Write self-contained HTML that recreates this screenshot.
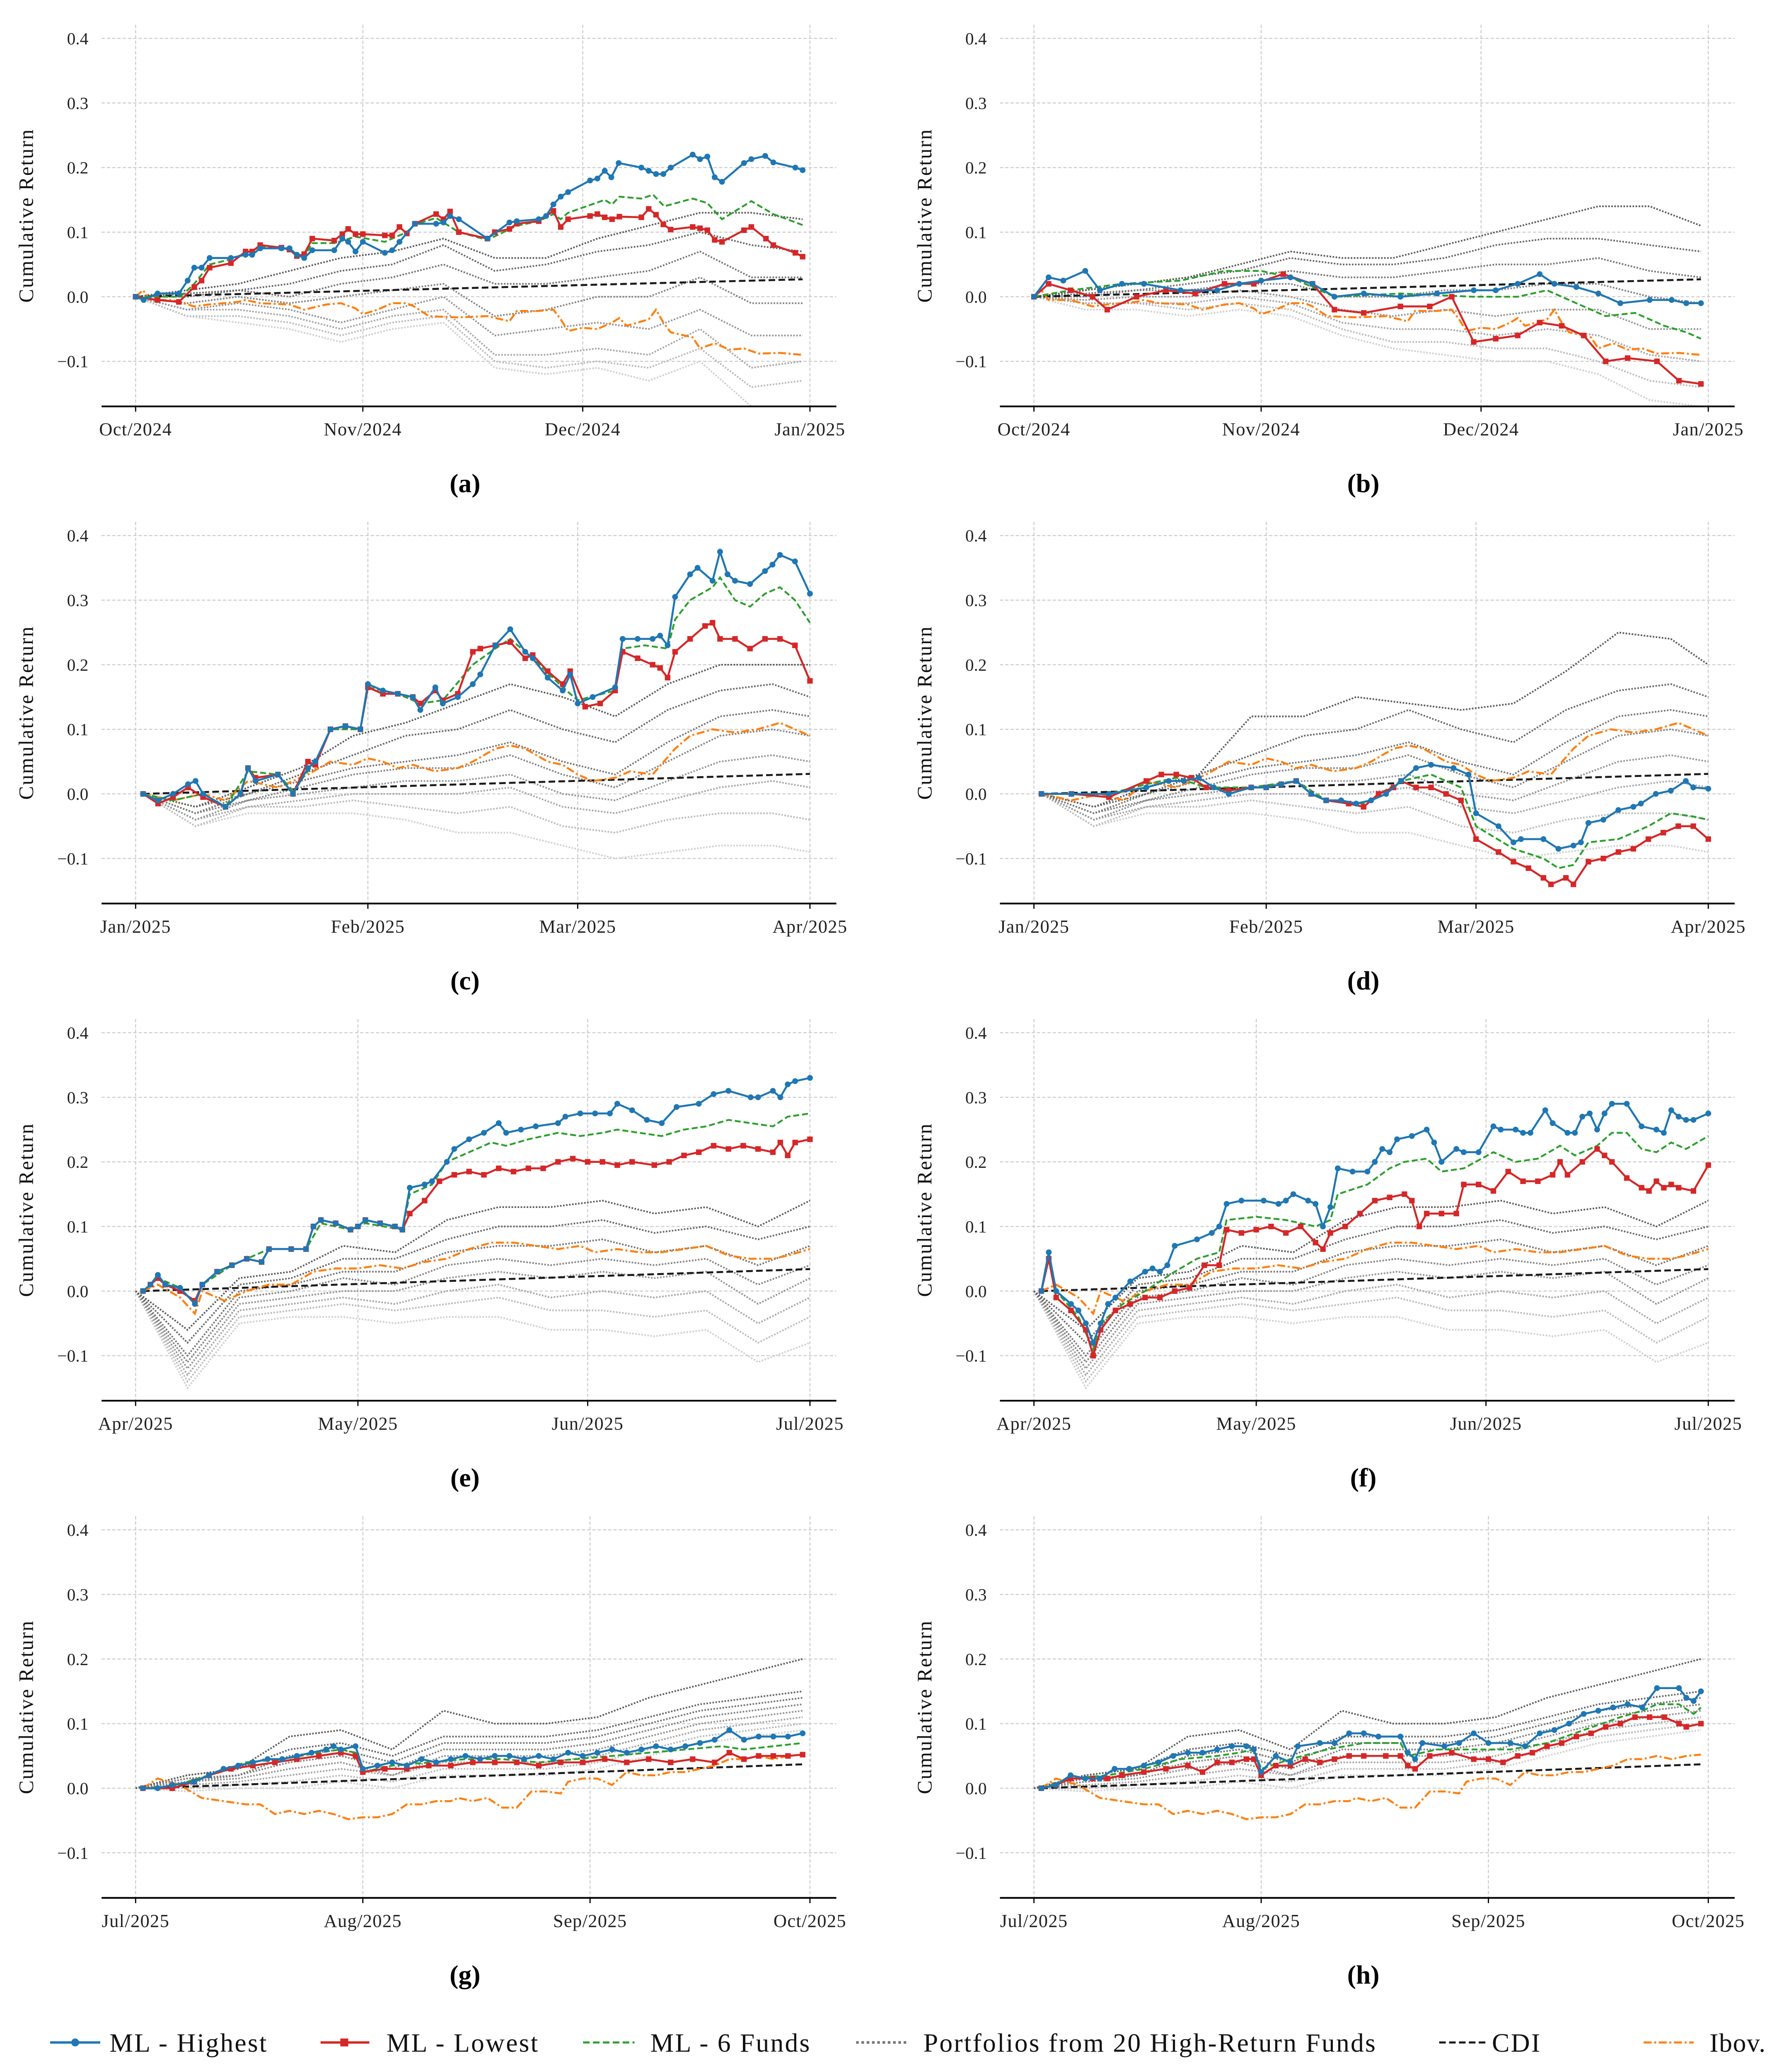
<!DOCTYPE html>
<html><head><meta charset="utf-8"><style>
html,body{margin:0;padding:0;background:#fff;overflow:hidden;width:4277px;height:5051px;}
svg{display:block;}
text{font-family:"Liberation Serif","DejaVu Serif",serif;}
</style></head>
<body><svg id="fig" xmlns="http://www.w3.org/2000/svg" width="4277" height="5051" viewBox="0 0 1343.3 1586.4">
<rect x="0" y="0" width="1343.3" height="1586.4" fill="#fff"/>
<g font-family="Liberation Serif, serif" font-size="20" letter-spacing="1" fill="#111">
  <g>
   <line x1="38" x2="76" y1="1548" y2="1548" stroke="#1f77b4" stroke-width="1.8"/><circle cx="57" cy="1548" r="3" fill="#1f77b4"/>
   <text x="83" y="1555">ML - Highest</text></g>
  <g>
   <line x1="243" x2="280" y1="1548" y2="1548" stroke="#d62728" stroke-width="1.8"/><rect x="258" y="1545" width="6" height="6" fill="#d62728"/>
   <text x="293" y="1555">ML - Lowest</text></g>
  <g>
   <line x1="442" x2="481" y1="1548" y2="1548" stroke="#2ca02c" stroke-width="1.6" stroke-dasharray="5,2.5"/>
   <text x="493" y="1555">ML - 6 Funds</text></g>
  <g>
   <line x1="649" x2="689" y1="1548" y2="1548" stroke="#777" stroke-width="2" stroke-dasharray="2,2"/>
   <text x="700" y="1555">Portfolios from 20 High-Return Funds</text></g>
  <g>
   <line x1="1091" x2="1126" y1="1548" y2="1548" stroke="#1a1a1a" stroke-width="1.6" stroke-dasharray="5,2.5"/>
   <text x="1131" y="1555">CDI</text></g>
  <g>
   <line x1="1246" x2="1284" y1="1548" y2="1548" stroke="#ff7f0e" stroke-width="1.6" stroke-dasharray="6,2,1.5,2"/>
   <text x="1296" y="1555" letter-spacing="0.5">Ibov.</text></g>
</g>
</svg><script>
// ---------- DATA (day index within quarter, cumulative return) ----------
const highA=[[0,0],[1.1,-0.005],[3,0.005],[5.9,0.005],[7.1,0.025],[8,0.045],[9,0.045],[10.1,0.06],[13,0.06],[15,0.065],[15.9,0.065],[17,0.075],[19.9,0.075],[21,0.075],[22,0.065],[23,0.06],[24.1,0.072],[27.1,0.072],[28.2,0.09],[29,0.085],[30,0.07],[31,0.085],[34,0.068],[35,0.072],[36,0.085],[38.1,0.113],[41,0.113],[42,0.115],[42.9,0.125],[44.1,0.12],[48,0.09],[51,0.115],[52,0.117],[55,0.12],[56,0.125],[57,0.143],[58,0.155],[59,0.162],[62,0.18],[63,0.183],[64,0.195],[64.9,0.185],[65.9,0.207],[69,0.2],[70,0.195],[71,0.19],[72,0.19],[73,0.2],[76,0.22],[77,0.213],[78,0.217],[79,0.185],[80,0.178],[83,0.207],[84,0.213],[85.9,0.218],[87,0.208],[90,0.2],[91,0.196]];
const lowA=[[0,0],[3,-0.005],[5.9,-0.008],[8,0.015],[9,0.025],[10.1,0.045],[13,0.052],[15,0.07],[15.9,0.07],[17,0.08],[19.9,0.076],[21,0.073],[22,0.063],[23,0.066],[24.1,0.09],[27.1,0.087],[28.2,0.097],[29,0.105],[30,0.097],[31,0.097],[34,0.095],[35,0.095],[36,0.108],[37,0.098],[38.1,0.113],[41,0.128],[42,0.12],[42.9,0.132],[44.1,0.1],[48,0.09],[49,0.1],[51,0.105],[52,0.113],[55,0.117],[57,0.133],[58,0.108],[59,0.12],[62,0.125],[63,0.128],[64,0.123],[65,0.12],[66,0.124],[69,0.123],[70,0.136],[71,0.127],[72,0.112],[73,0.104],[76,0.108],[77,0.106],[78,0.103],[79,0.088],[80,0.085],[83,0.103],[84,0.108],[86,0.09],[87,0.08],[90,0.068],[91,0.062]];
const sixA=[[0,0],[6.1,0],[8,0.02],[10.1,0.05],[13,0.058],[17,0.077],[19.9,0.077],[23,0.062],[24.1,0.083],[27.1,0.083],[30,0.093],[34,0.085],[37,0.1],[38.1,0.112],[41,0.122],[44.1,0.1],[48,0.088],[52,0.11],[55,0.117],[57,0.128],[58,0.12],[59,0.13],[64,0.15],[65,0.143],[66,0.155],[69,0.152],[70.6,0.158],[72.1,0.14],[76,0.152],[78,0.145],[80,0.12],[84,0.148],[87,0.128],[91,0.111]];
const ibovQ4=[[0,0],[1,0.01],[2,-0.005],[5,-0.005],[8,-0.015],[10,-0.012],[14,-0.008],[15,-0.005],[17,-0.01],[21,-0.012],[23,-0.02],[26,-0.012],[28,-0.01],[30,-0.018],[31,-0.027],[33,-0.02],[35,-0.01],[37,-0.01],[38,-0.015],[40,-0.03],[44,-0.032],[48,-0.03],[51,-0.038],[52,-0.022],[55,-0.022],[57,-0.02],[58,-0.035],[59,-0.053],[61,-0.048],[63,-0.05],[65,-0.04],[66,-0.033],[67,-0.045],[70,-0.035],[71,-0.02],[72,-0.04],[73,-0.055],[76,-0.063],[77,-0.08],[79,-0.072],[81,-0.082],[83,-0.08],[85,-0.088],[88,-0.087],[91,-0.09]];
const cdiQ4=[[0,0],[91,0.027]];
const highB=[[0,0],[2,0.03],[4,0.025],[7,0.04],[9,0.01],[12,0.02],[15,0.02],[20,0.01],[25,0.01],[28,0.02],[31,0.025],[35,0.03],[38,0.02],[41,0.0],[45,0.005],[50,0.0],[55,0.005],[60,0.01],[63,0.01],[66,0.02],[69,0.035],[71,0.02],[74,0.015],[77,0.005],[80,-0.01],[84,-0.005],[87,-0.005],[89,-0.01],[91,-0.01]];
const lowB=[[0,0],[2,0.02],[5,0.01],[8,0.0],[10,-0.02],[14,0.0],[18,0.01],[22,0.005],[26,0.02],[30,0.02],[34,0.035],[38,0.02],[41,-0.02],[45,-0.025],[50,-0.015],[54,-0.015],[57,0.0],[60,-0.07],[63,-0.065],[66,-0.06],[69,-0.04],[72,-0.045],[75,-0.06],[78,-0.1],[81,-0.095],[85,-0.1],[88,-0.13],[91,-0.135]];
const sixB=[[0,0],[5,0.01],[12,0.02],[20,0.025],[26,0.04],[31,0.04],[35,0.03],[41,0.0],[50,0.005],[60,0.0],[66,0.0],[70,0.01],[74,-0.01],[78,-0.03],[82,-0.025],[86,-0.045],[89,-0.055],[91,-0.065]];
const highC=[[1,0],[3,-0.01],[5,0],[7,0.015],[8,0.02],[9,0],[12,-0.02],[14,0],[15,0.04],[16,0.02],[19,0.03],[21,0],[23,0.04],[24,0.05],[26,0.1],[28,0.105],[30,0.1],[31,0.17],[33,0.16],[35,0.155],[37,0.15],[38,0.13],[40,0.165],[41,0.14],[43,0.15],[45,0.17],[46,0.185],[48,0.23],[50,0.255],[52,0.22],[53,0.21],[55,0.18],[57,0.16],[58,0.185],[59,0.14],[61,0.15],[64,0.165],[65,0.24],[67,0.24],[69,0.24],[70,0.245],[71,0.23],[72,0.305],[74,0.34],[75,0.35],[77,0.33],[78,0.375],[79,0.34],[80,0.33],[82,0.325],[84,0.345],[85,0.355],[86,0.37],[88,0.36],[90,0.31]];
const lowC=[[1,0],[3,-0.015],[5,-0.005],[7,0.01],[9,-0.005],[12,-0.02],[14,0],[15,0.04],[16,0.025],[19,0.03],[21,0.0],[23,0.05],[24,0.045],[26,0.1],[28,0.105],[30,0.1],[31,0.165],[33,0.155],[35,0.155],[37,0.15],[38,0.14],[40,0.16],[41,0.145],[43,0.155],[45,0.22],[46,0.225],[48,0.23],[50,0.235],[52,0.21],[53,0.215],[55,0.19],[57,0.17],[58,0.19],[60,0.135],[62,0.14],[64,0.16],[65,0.22],[67,0.21],[69,0.2],[70,0.195],[71,0.18],[72,0.22],[74,0.24],[76,0.26],[77,0.265],[78,0.24],[80,0.24],[82,0.225],[84,0.24],[86,0.24],[88,0.23],[90,0.175]];
const sixC=[[1,0],[5,-0.01],[9,0],[12,-0.02],[15,0.035],[19,0.03],[21,0.005],[24,0.05],[26,0.1],[30,0.1],[31,0.165],[35,0.155],[38,0.14],[41,0.145],[45,0.2],[48,0.225],[50,0.24],[53,0.21],[57,0.165],[59,0.145],[64,0.16],[65,0.225],[68,0.23],[71,0.225],[72,0.27],[74,0.3],[77,0.32],[78,0.335],[80,0.3],[82,0.29],[84,0.31],[86,0.32],[88,0.3],[90,0.265]];
const ibovQ1=[[1,0],[5,-0.01],[9,0],[12,-0.01],[15,0.02],[19,0.01],[23,0.03],[26,0.05],[29,0.045],[31,0.055],[33,0.05],[35,0.04],[37,0.045],[40,0.035],[43,0.04],[45,0.05],[48,0.07],[50,0.075],[52,0.07],[55,0.05],[57,0.045],[59,0.03],[61,0.02],[64,0.025],[66,0.035],[69,0.03],[72,0.07],[74,0.09],[77,0.1],[80,0.095],[83,0.1],[86,0.11],[88,0.1],[90,0.09]];
const cdiQ1=[[1,0],[90,0.031]];
const highD=[[1,0],[5,0],[10,0],[15,0.01],[18,0.02],[20,0.02],[22,0.025],[24,0.01],[26,0],[29,0.01],[31,0.01],[33,0.015],[35,0.02],[37,0],[39,-0.01],[41,-0.01],[43,-0.015],[45,-0.01],[47,0],[49,0.02],[51,0.04],[53,0.045],[56,0.04],[58,0.03],[59,-0.03],[62,-0.05],[64,-0.075],[65,-0.07],[68,-0.07],[70,-0.085],[72,-0.08],[73,-0.075],[74,-0.045],[76,-0.04],[78,-0.025],[80,-0.02],[81,-0.015],[83,0],[85,0.005],[87,0.02],[88,0.01],[90,0.008]];
const lowD=[[1,0],[5,0],[10,-0.005],[15,0.02],[17,0.03],[19,0.03],[21,0.025],[23,0.01],[26,0.005],[29,0.01],[31,0.01],[33,0.015],[35,0.02],[37,0],[39,-0.01],[42,-0.015],[44,-0.02],[46,0],[48,0.01],[49,0.02],[51,0.01],[53,0.01],[55,0],[57,-0.01],[59,-0.07],[62,-0.09],[64,-0.105],[66,-0.115],[68,-0.13],[69,-0.14],[71,-0.13],[72,-0.14],[74,-0.105],[76,-0.1],[78,-0.09],[80,-0.085],[82,-0.07],[84,-0.06],[86,-0.05],[88,-0.05],[90,-0.07]];
const sixD=[[1,0],[10,0],[15,0.015],[19,0.025],[23,0.01],[29,0.01],[35,0.02],[39,-0.01],[44,-0.015],[49,0.02],[53,0.03],[57,0.01],[59,-0.05],[64,-0.085],[68,-0.1],[70,-0.115],[72,-0.11],[74,-0.075],[78,-0.07],[82,-0.05],[85,-0.03],[88,-0.035],[90,-0.04]];
const highE=[[1,0],[2,0.01],[3,0.025],[4,0.01],[6,0.005],[8,-0.02],[9,0.01],[11,0.03],[13,0.04],[15,0.05],[17,0.045],[18,0.065],[21,0.065],[23,0.065],[24,0.1],[25,0.11],[27,0.105],[29,0.095],[30,0.1],[31,0.11],[33,0.105],[35,0.1],[36,0.095],[37,0.16],[39,0.165],[40,0.17],[42,0.2],[43,0.22],[45,0.235],[47,0.245],[49,0.26],[50,0.245],[52,0.25],[54,0.255],[57,0.26],[58,0.27],[60,0.275],[62,0.275],[64,0.275],[65,0.29],[67,0.28],[69,0.265],[71,0.26],[73,0.285],[76,0.29],[78,0.305],[80,0.31],[83,0.3],[84,0.3],[86,0.31],[87,0.3],[88,0.32],[89,0.325],[91,0.33]];
const lowE=[[1,0],[2,0.01],[3,0.02],[4,0.01],[6,0.0],[8,-0.015],[9,0.01],[11,0.03],[13,0.04],[15,0.05],[17,0.045],[18,0.065],[21,0.065],[23,0.065],[24,0.1],[25,0.11],[27,0.105],[29,0.095],[30,0.1],[31,0.11],[33,0.105],[35,0.1],[36,0.095],[37,0.12],[39,0.14],[41,0.17],[43,0.18],[45,0.185],[47,0.18],[49,0.19],[51,0.185],[53,0.19],[55,0.19],[57,0.2],[59,0.205],[61,0.2],[63,0.2],[65,0.195],[67,0.2],[70,0.195],[72,0.2],[74,0.21],[76,0.215],[78,0.225],[80,0.22],[82,0.225],[84,0.22],[86,0.215],[87,0.23],[88,0.21],[89,0.23],[91,0.235]];
const sixE=[[1,0],[3,0.02],[6,0.005],[8,-0.02],[9,0.01],[13,0.04],[18,0.065],[23,0.065],[25,0.105],[29,0.095],[31,0.105],[36,0.095],[37,0.15],[40,0.165],[42,0.2],[45,0.215],[48,0.23],[50,0.225],[53,0.235],[57,0.245],[60,0.24],[63,0.245],[65,0.25],[68,0.245],[71,0.24],[74,0.25],[77,0.255],[80,0.265],[83,0.26],[86,0.255],[88,0.27],[91,0.275]];
const ibovQ2=[[1,0],[3,0.01],[6,-0.01],[8,-0.035],[9,0],[12,-0.015],[15,0],[18,0.01],[21,0.01],[24,0.03],[27,0.035],[30,0.035],[33,0.04],[36,0.035],[39,0.045],[42,0.05],[45,0.065],[48,0.075],[51,0.075],[54,0.07],[57,0.065],[60,0.07],[62,0.06],[65,0.065],[68,0.06],[71,0.06],[74,0.065],[77,0.07],[80,0.055],[83,0.05],[86,0.05],[88,0.055],[91,0.065]];
const cdiQ2=[[1,0],[91,0.034]];
const highF=[[1,0],[2,0.06],[3,0],[5,-0.02],[6,-0.03],[7,-0.05],[8,-0.08],[9,-0.05],[10,-0.02],[11,-0.01],[13,0.015],[15,0.03],[16,0.035],[17,0.03],[18,0.04],[19,0.07],[22,0.08],[24,0.09],[25,0.1],[26,0.135],[28,0.14],[31,0.14],[33,0.135],[34,0.14],[35,0.15],[37,0.14],[38,0.135],[39,0.1],[40,0.13],[41,0.19],[43,0.185],[45,0.185],[46,0.2],[47,0.22],[48,0.215],[49,0.235],[51,0.24],[53,0.25],[54,0.23],[55,0.2],[57,0.22],[58,0.215],[60,0.215],[62,0.255],[63,0.25],[65,0.25],[66,0.245],[67,0.245],[69,0.28],[70,0.26],[72,0.245],[73,0.245],[74,0.27],[75,0.275],[76,0.25],[77,0.275],[78,0.29],[80,0.29],[82,0.255],[84,0.25],[85,0.245],[86,0.28],[87,0.27],[88,0.265],[89,0.265],[91,0.275]];
const lowF=[[1,0],[2,0.05],[3,-0.01],[5,-0.03],[7,-0.06],[8,-0.1],[9,-0.06],[11,-0.03],[13,-0.02],[15,-0.01],[17,-0.01],[19,0],[21,0.005],[23,0.04],[25,0.04],[26,0.095],[28,0.09],[30,0.095],[32,0.1],[34,0.09],[36,0.1],[38,0.075],[39,0.065],[40,0.09],[42,0.1],[44,0.12],[46,0.14],[48,0.145],[50,0.15],[51,0.14],[52,0.1],[53,0.12],[55,0.12],[57,0.12],[58,0.165],[60,0.165],[62,0.155],[64,0.185],[66,0.17],[68,0.17],[70,0.18],[71,0.2],[72,0.18],[74,0.2],[76,0.22],[77,0.21],[78,0.2],[80,0.175],[82,0.16],[83,0.155],[84,0.17],[85,0.16],[86,0.165],[87,0.16],[89,0.155],[91,0.195]];
const sixF=[[1,0],[2,0.055],[3,0],[6,-0.04],[8,-0.09],[9,-0.05],[12,-0.02],[15,0],[19,0.03],[22,0.05],[25,0.06],[26,0.11],[30,0.115],[34,0.11],[38,0.1],[40,0.11],[41,0.15],[45,0.165],[48,0.19],[50,0.2],[53,0.205],[55,0.185],[58,0.19],[62,0.215],[65,0.2],[68,0.205],[71,0.225],[73,0.21],[76,0.225],[78,0.245],[80,0.245],[82,0.22],[84,0.215],[86,0.23],[88,0.22],[91,0.24]];
const highG=[[1,0],[3,0],[5,0.005],[8,0.01],[10,0.02],[12,0.03],[14,0.035],[16,0.04],[18,0.045],[20,0.045],[22,0.05],[24,0.055],[26,0.06],[27,0.065],[28,0.06],[30,0.065],[31,0.03],[33,0.035],[35,0.04],[37,0.035],[39,0.045],[41,0.04],[43,0.045],[45,0.05],[47,0.045],[49,0.05],[51,0.05],[53,0.045],[55,0.05],[57,0.045],[59,0.055],[61,0.05],[63,0.055],[65,0.06],[67,0.055],[69,0.06],[71,0.065],[73,0.06],[75,0.065],[77,0.07],[79,0.075],[81,0.09],[83,0.075],[85,0.08],[87,0.08],[89,0.08],[91,0.085]];
const lowG=[[1,0],[5,0],[8,0.01],[10,0.02],[13,0.03],[16,0.035],[19,0.04],[22,0.045],[25,0.05],[28,0.055],[30,0.05],[31,0.025],[34,0.03],[37,0.03],[40,0.035],[43,0.035],[46,0.04],[49,0.04],[52,0.04],[55,0.035],[58,0.04],[61,0.04],[64,0.045],[67,0.04],[70,0.045],[73,0.04],[76,0.045],[79,0.04],[81,0.055],[83,0.045],[85,0.05],[87,0.05],[89,0.05],[91,0.052]];
const sixG=[[1,0],[5,0.003],[10,0.02],[15,0.04],[20,0.045],[25,0.055],[28,0.06],[30,0.055],[31,0.025],[35,0.035],[40,0.04],[45,0.045],[50,0.045],[55,0.04],[60,0.045],[65,0.05],[70,0.055],[75,0.06],[80,0.065],[83,0.06],[87,0.065],[91,0.07]];
const ibovQ3=[[1,0],[3,0.015],[6,0.005],[9,-0.015],[12,-0.02],[15,-0.025],[17,-0.025],[19,-0.04],[21,-0.035],[23,-0.04],[25,-0.035],[27,-0.04],[29,-0.048],[31,-0.045],[33,-0.045],[35,-0.04],[37,-0.025],[39,-0.025],[41,-0.02],[43,-0.02],[44,-0.015],[46,-0.02],[48,-0.015],[50,-0.03],[52,-0.03],[54,-0.005],[56,-0.005],[58,-0.008],[59,0.01],[61,0.015],[63,0.015],[65,0.005],[67,0.025],[69,0.02],[71,0.02],[73,0.025],[75,0.025],[77,0.03],[79,0.035],[81,0.045],[83,0.045],[85,0.05],[87,0.045],[89,0.05],[91,0.052]];
const cdiQ3=[[1,0],[91,0.037]];
const highH=[[1,0],[3,0.005],[5,0.02],[7,0.015],[9,0.015],[11,0.03],[13,0.03],[15,0.035],[17,0.04],[19,0.05],[21,0.055],[23,0.055],[25,0.06],[27,0.065],[29,0.065],[30,0.06],[31,0.025],[33,0.05],[35,0.04],[36,0.065],[39,0.07],[41,0.07],[43,0.085],[45,0.085],[47,0.08],[50,0.08],[51,0.055],[52,0.045],[53,0.07],[56,0.065],[58,0.07],[60,0.085],[62,0.07],[65,0.07],[67,0.065],[69,0.085],[71,0.09],[73,0.1],[75,0.115],[77,0.12],[79,0.125],[81,0.13],[83,0.125],[85,0.155],[88,0.155],[89,0.14],[90,0.135],[91,0.15]];
const lowH=[[1,0],[3,0.005],[5,0.015],[8,0.015],[10,0.015],[12,0.02],[15,0.025],[18,0.03],[21,0.035],[23,0.025],[25,0.04],[27,0.04],[29,0.045],[30,0.045],[31,0.02],[33,0.035],[35,0.035],[37,0.045],[39,0.04],[41,0.045],[43,0.05],[45,0.05],[48,0.05],[50,0.05],[51,0.035],[52,0.03],[54,0.05],[57,0.055],[60,0.045],[62,0.045],[64,0.04],[66,0.05],[68,0.055],[70,0.065],[72,0.07],[74,0.08],[76,0.085],[78,0.095],[80,0.1],[82,0.11],[84,0.11],[86,0.11],[88,0.1],[89,0.095],[91,0.1]];
const sixH=[[1,0],[5,0.015],[10,0.02],[15,0.03],[20,0.045],[25,0.05],[28,0.055],[30,0.06],[31,0.03],[35,0.045],[40,0.06],[45,0.07],[50,0.07],[51,0.05],[55,0.06],[60,0.06],[65,0.06],[70,0.07],[75,0.09],[80,0.11],[83,0.12],[85,0.13],[88,0.13],[90,0.115],[91,0.125]];
const grayDaysQ=[0,7,14,21,28,35,42,49,56,63,70,77,84,91];
const grayA=[[0,0.01,0.02,0.04,0.06,0.07,0.09,0.06,0.06,0.09,0.11,0.13,0.13,0.12],[0,0.005,0.01,0.02,0.04,0.05,0.08,0.04,0.05,0.07,0.08,0.1,0.08,0.07],[0,0,0.01,0,0.02,0.03,0.05,0.02,0.02,0.03,0.04,0.07,0.03,0.03],[0,-0.01,0,-0.01,0,0.01,0.02,-0.03,-0.02,0,0,0.03,-0.01,-0.01],[0,-0.02,-0.01,-0.02,-0.04,-0.02,0,-0.06,-0.05,-0.04,-0.05,-0.02,-0.06,-0.06],[0,-0.02,-0.02,-0.03,-0.05,-0.03,-0.02,-0.09,-0.09,-0.08,-0.09,-0.05,-0.11,-0.1],[0,-0.03,-0.03,-0.04,-0.06,-0.04,-0.03,-0.1,-0.11,-0.1,-0.11,-0.08,-0.14,-0.13],[0,-0.03,-0.04,-0.05,-0.07,-0.05,-0.04,-0.11,-0.12,-0.11,-0.13,-0.1,-0.17,-0.17]];
const grayB=[[0,0.01,0.02,0.03,0.05,0.07,0.06,0.06,0.08,0.1,0.12,0.14,0.14,0.11],[0,0.01,0.02,0.03,0.04,0.06,0.05,0.05,0.06,0.08,0.09,0.09,0.08,0.07],[0,0.005,0.01,0.02,0.03,0.04,0.03,0.03,0.04,0.05,0.05,0.06,0.04,0.03],[0,0,0.01,0.01,0.02,0.02,0,0,0.01,0.01,0.02,0.02,0,-0.01],[0,-0.005,0,0,0.01,0,-0.02,-0.03,-0.02,-0.03,-0.02,-0.02,-0.05,-0.05],[0,-0.01,-0.01,-0.01,0,-0.01,-0.04,-0.05,-0.05,-0.06,-0.05,-0.06,-0.09,-0.1],[0,-0.01,-0.01,-0.02,-0.01,-0.02,-0.05,-0.07,-0.07,-0.08,-0.08,-0.1,-0.13,-0.14],[0,-0.02,-0.02,-0.03,-0.02,-0.03,-0.06,-0.08,-0.09,-0.1,-0.1,-0.12,-0.16,-0.17]];
const grayDays=[1,8,15,22,29,36,43,50,57,64,71,78,85,90];
const grayC=[[0,-0.02,0.01,0.04,0.09,0.11,0.14,0.17,0.15,0.12,0.17,0.2,0.2,0.2],[0,-0.02,0,0.03,0.06,0.09,0.1,0.13,0.1,0.08,0.13,0.16,0.17,0.15],[0,-0.03,0,0.02,0.04,0.05,0.06,0.08,0.05,0.03,0.08,0.12,0.13,0.12],[0,-0.03,-0.01,0.01,0.03,0.04,0.04,0.06,0.03,0.01,0.05,0.09,0.1,0.09],[0,-0.04,-0.01,0,0.01,0.02,0.02,0.03,0,-0.01,0.02,0.05,0.06,0.05],[0,-0.04,-0.02,-0.01,0,0,0,0.01,-0.02,-0.03,-0.01,0.01,0.02,0.01],[0,-0.05,-0.02,-0.02,-0.01,-0.02,-0.03,-0.02,-0.05,-0.06,-0.04,-0.03,-0.03,-0.04],[0,-0.05,-0.03,-0.03,-0.03,-0.04,-0.06,-0.06,-0.08,-0.1,-0.09,-0.08,-0.08,-0.09]];
const grayD=[[0,-0.02,0.01,0.03,0.12,0.12,0.15,0.14,0.13,0.14,0.19,0.25,0.24,0.2],grayC[1],grayC[2],grayC[3],grayC[4],grayC[5],grayC[6],grayC[7]];
const grayE=[[0,-0.06,0.02,0.03,0.07,0.06,0.11,0.13,0.13,0.14,0.12,0.13,0.1,0.14],[0,-0.08,0.01,0.02,0.05,0.05,0.08,0.1,0.1,0.11,0.09,0.1,0.08,0.1],[0,-0.1,0,0.01,0.03,0.03,0.06,0.07,0.07,0.08,0.06,0.07,0.04,0.07],[0,-0.11,-0.01,0,0.02,0.01,0.04,0.05,0.04,0.05,0.04,0.05,0.01,0.04],[0,-0.12,-0.02,-0.01,0,0,0.02,0.03,0.02,0.03,0.02,0.03,-0.02,0.02],[0,-0.13,-0.03,-0.02,-0.01,-0.02,0,0.01,-0.01,0,-0.01,0,-0.05,-0.01],[0,-0.14,-0.04,-0.03,-0.02,-0.03,-0.02,-0.01,-0.03,-0.03,-0.04,-0.03,-0.08,-0.04],[0,-0.15,-0.05,-0.04,-0.04,-0.05,-0.04,-0.04,-0.06,-0.06,-0.07,-0.06,-0.11,-0.08]];
const grayG=[[0,0.02,0.03,0.08,0.09,0.06,0.12,0.1,0.1,0.11,0.14,0.16,0.18,0.2],[0,0.02,0.03,0.06,0.07,0.05,0.08,0.08,0.08,0.09,0.11,0.13,0.14,0.15],[0,0.015,0.02,0.05,0.06,0.04,0.07,0.07,0.07,0.08,0.1,0.12,0.13,0.14],[0,0.01,0.02,0.04,0.05,0.03,0.06,0.06,0.06,0.07,0.09,0.11,0.12,0.13],[0,0.01,0.015,0.03,0.04,0.02,0.05,0.05,0.05,0.06,0.08,0.1,0.11,0.12],[0,0.005,0.01,0.02,0.03,0.02,0.04,0.04,0.04,0.05,0.07,0.09,0.1,0.11],[0,0,0.005,0.01,0.02,0.01,0.03,0.03,0.03,0.04,0.06,0.08,0.09,0.1],[0,-0.005,0,0,0.01,0,0.02,0.02,0.02,0.03,0.05,0.07,0.08,0.09]];
const yTicks=[-0.1,0.0,0.1,0.2,0.3,0.4];
const yTickLabels=["\u22120.1","0.0","0.1","0.2","0.3","0.4"];
const monthsQ4=["Oct/2024","Nov/2024","Dec/2024","Jan/2025"], monthDaysQ4=[0,31,61,92];
const monthsQ1=["Jan/2025","Feb/2025","Mar/2025","Apr/2025"], monthDaysQ1=[0,31,59,90];
const monthsQ2=["Apr/2025","May/2025","Jun/2025","Jul/2025"], monthDaysQ2=[0,30,61,91];
const monthsQ3=["Jul/2025","Aug/2025","Sep/2025","Oct/2025"], monthDaysQ3=[0,31,62,92];
const panelLabels=["(a)","(b)","(c)","(d)","(e)","(f)","(g)","(h)"];

// ---------- DRAWING ----------
const NS="http://www.w3.org/2000/svg";
const svg=document.getElementById('fig');
const grayColors=['#5e5e5e','#6a6a6a','#787878','#868686','#969696','#a8a8a8','#bcbcbc','#d0d0d0'];
function mk(tag,attrs,parent){const e=document.createElementNS(NS,tag);for(const k in attrs)e.setAttribute(k,attrs[k]);(parent||svg).appendChild(e);return e;}
const panels=[
 {hi:highA,lo:lowA,six:sixA,ib:ibovQ4,cdi:cdiQ4,gray:grayA,gd:grayDaysQ,m:monthsQ4,md:monthDaysQ4},
 {hi:highB,lo:lowB,six:sixB,ib:ibovQ4,cdi:cdiQ4,gray:grayB,gd:grayDaysQ,m:monthsQ4,md:monthDaysQ4},
 {hi:highC,lo:lowC,six:sixC,ib:ibovQ1,cdi:cdiQ1,gray:grayC,gd:grayDays,m:monthsQ1,md:monthDaysQ1},
 {hi:highD,lo:lowD,six:sixD,ib:ibovQ1,cdi:cdiQ1,gray:grayD,gd:grayDays,m:monthsQ1,md:monthDaysQ1},
 {hi:highE,lo:lowE,six:sixE,ib:ibovQ2,cdi:cdiQ2,gray:grayE,gd:grayDaysQ,m:monthsQ2,md:monthDaysQ2},
 {hi:highF,lo:lowF,six:sixF,ib:ibovQ2,cdi:cdiQ2,gray:grayE,gd:grayDaysQ,m:monthsQ2,md:monthDaysQ2},
 {hi:highG,lo:lowG,six:sixG,ib:ibovQ3,cdi:cdiQ3,gray:grayG,gd:grayDaysQ,m:monthsQ3,md:monthDaysQ3},
 {hi:highH,lo:lowH,six:sixH,ib:ibovQ3,cdi:cdiQ3,gray:grayG,gd:grayDaysQ,m:monthsQ3,md:monthDaysQ3}
];
panels.forEach((p,i)=>{
 const ox=(i%2)*681, oy=Math.floor(i/2)*376.8;
 const L=77+ox,R=634+ox,T=18.7+oy,B=308+oy,Y0=224.9+oy,K=489.5;
 const lastDay=p.md[3];
 const X=d=>102.8+ox+d*(511.2/lastDay);
 const Y=v=>Y0-v*K;
 const g=mk('g',{});
 
 
 yTicks.forEach((v,k)=>{
  const ln=mk('line',{x1:L,x2:R,y1:Y(v),y2:Y(v),stroke:'#c8c8c8','stroke-width':0.7,'stroke-dasharray':'2.5,1.5'},g);
  
  
  const t=mk('text',{x:67+ox,y:Y(v)+4.5,'text-anchor':'end','font-size':13,fill:'#222'},g);
  t.textContent=yTickLabels[k];
  
  
 });
 p.md.forEach((d,k)=>{
  const ln=mk('line',{x1:X(d),x2:X(d),y1:T,y2:B,stroke:'#c8c8c8','stroke-width':0.7,'stroke-dasharray':'2.5,1.5'},g);
  
  
  mk('line',{x1:X(d),x2:X(d),y1:B,y2:B+4,stroke:'#000','stroke-width':0.9},g);
  const t=mk('text',{x:X(d),y:B+22,'text-anchor':'middle','font-size':14,'letter-spacing':'0.4',fill:'#222'},g);
  t.textContent=p.m[k];
  
  
 });
 const yl=mk('text',{x:0,y:0,transform:`translate(${25+ox},${(T+B)/2}) rotate(-90)`,'text-anchor':'middle','font-size':15.5,'letter-spacing':'0.8',fill:'#111'},g);
 yl.textContent='Cumulative Return';
 
 
 const cid='clip'+i;
 const cp=mk('clipPath',{id:cid},g);
 mk('rect',{x:L,y:T,width:R-L,height:B-T},cp);
 const pg=mk('g',{'clip-path':`url(#${cid})`},g);
 const path=pts=>pts.map((q,k)=>(k?'L':'M')+X(q[0]).toFixed(2)+','+Y(q[1]).toFixed(2)).join('');
 for(let k=p.gray.length-1;k>=0;k--){
  const pts=p.gd.map((d,j)=>[d,p.gray[k][j]]);
  const e=mk('path',{d:path(pts),fill:'none',stroke:grayColors[k],'stroke-width':1.3,'stroke-dasharray':'1.2,1.1'},pg);
  
  
 }
 let e;
 e=mk('path',{d:path(p.cdi),fill:'none',stroke:'#1a1a1a','stroke-width':1.5,'stroke-dasharray':'5,2.5'},pg);
 
 
 e=mk('path',{d:path(p.ib),fill:'none',stroke:'#ff7f0e','stroke-width':1.5,'stroke-dasharray':'6,2,1.5,2'},pg);
 
 
 e=mk('path',{d:path(p.six),fill:'none',stroke:'#2ca02c','stroke-width':1.4,'stroke-dasharray':'4.5,2.2'},pg);
 
 
 e=mk('path',{d:path(p.lo),fill:'none',stroke:'#d62728','stroke-width':1.5},pg);
 
 
 p.lo.forEach(q=>{
  const m=mk('rect',{x:X(q[0])-2.1,y:Y(q[1])-2.1,width:4.2,height:4.2,fill:'#d62728'},pg);
  
  
 });
 e=mk('path',{d:path(p.hi),fill:'none',stroke:'#1f77b4','stroke-width':1.5},pg);
 
 
 p.hi.forEach(q=>{
  const m=mk('circle',{cx:X(q[0]),cy:Y(q[1]),r:2.2,fill:'#1f77b4'},pg);
  
  
 });
 const sp=mk('line',{x1:L,x2:R,y1:B,y2:B,stroke:'#000','stroke-width':1.3},g);
 
 
 const tt=mk('text',{x:(L+R)/2-3,y:373+oy,'text-anchor':'middle','font-size':20,'font-weight':'bold',fill:'#000'},g);
 tt.textContent=panelLabels[i];
 
 
});
</script></body></html>
